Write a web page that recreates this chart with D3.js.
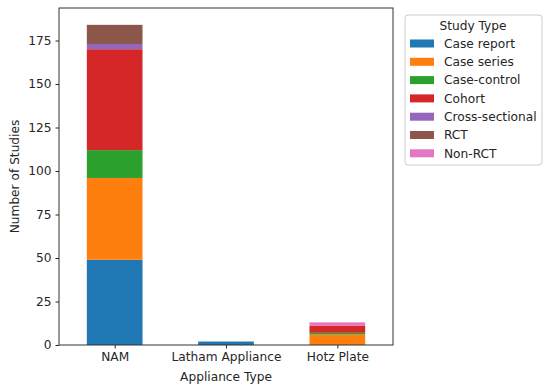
<!DOCTYPE html>
<html><head><meta charset="utf-8">
<script src="https://cdn.jsdelivr.net/npm/d3@7"></script>
<style>body{margin:0;background:#fff}svg{display:block;font-family:"DejaVu Sans",sans-serif}</style>
</head><body><svg id="c" width="550" height="389"></svg>
<script>
const categories = ["NAM", "Latham Appliance", "Hotz Plate"];
const studyTypes = ["Case report","Case series","Case-control","Cohort","Cross-sectional","RCT","Non-RCT"];
const caseReport     = [49, 2, 0];
const caseSeries     = [47, 0, 6];
const caseControl    = [16, 0, 1];
const cohort         = [58, 0, 4];
const crossSectional = [3, 0, 0];
const rct            = [11, 0, 0];
const nonRct         = [0, 0, 2];
const yTicks = [0, 25, 50, 75, 100, 125, 150, 175];
const colors = ["#1f77b4","#ff7f0e","#2ca02c","#d62728","#9467bd","#8c564b","#e377c2"];

const seriesVals = [caseReport, caseSeries, caseControl, cohort, crossSectional, rct, nonRct];
const rows = categories.map((c, i) => {
  const o = {cat: c};
  studyTypes.forEach((s, j) => o[s] = seriesVals[j][i]);
  return o;
});
const stack = d3.stack().keys(studyTypes)(rows);

const svg = d3.select("#c");
const L = 59, R = 393, T = 8, B = 345;
const FS = "12.2px";
const x = d3.scaleLinear().domain([-0.5, 2.5]).range([L, R]);
const y = d3.scaleLinear().domain([0, (B - T) / 1.74]).range([B, T]);
const bw = x(0.5) - x(0);

stack.forEach((layer, j) => {
  svg.append("g").selectAll("rect").data(layer).join("rect")
    .attr("x", (d, i) => x(i - 0.25))
    .attr("width", bw)
    .attr("y", d => y(d[1]))
    .attr("height", d => Math.max(0, y(d[0]) - y(d[1])))
    .attr("fill", colors[j]);
});

const txt = "#262626";
const ax = svg.append("g").attr("transform", `translate(0,${B})`)
  .call(d3.axisBottom(x).tickValues([0,1,2]).tickFormat(i => categories[i]).tickSize(3.5).tickPadding(4));
const ay = svg.append("g").attr("transform", `translate(${L},0)`)
  .call(d3.axisLeft(y).tickValues(yTicks).tickSize(3.5).tickPadding(4));
[ax, ay].forEach(g => {
  g.select(".domain").remove();
  g.selectAll("line").attr("stroke", txt);
  g.selectAll("text").attr("fill", txt).style("font-size", FS).style("font-family", "DejaVu Sans");
});
svg.append("rect").attr("x", L).attr("y", T).attr("width", R - L).attr("height", B - T)
  .attr("fill", "none").attr("stroke", "#333").attr("stroke-width", 1);

svg.append("text").attr("x", (L + R) / 2).attr("y", 381).attr("text-anchor", "middle")
  .attr("fill", txt).style("font-size", FS).text("Appliance Type");
svg.append("text").attr("transform", `translate(19,${(T + B) / 2}) rotate(-90)`)
  .attr("text-anchor", "middle").attr("fill", txt).style("font-size", FS).text("Number of Studies");

// legend
const lg = svg.append("g");
lg.append("rect").attr("x", 405).attr("y", 15).attr("width", 137).attr("height", 150).attr("rx", 3)
  .attr("fill", "#fff").attr("stroke", "#ccc");
lg.append("text").attr("x", 473).attr("y", 29.5).attr("text-anchor", "middle").attr("fill", txt)
  .style("font-size", FS).text("Study Type");
studyTypes.forEach((s, j) => {
  const yy = 43.5 + j * 18.3;
  lg.append("rect").attr("x", 410).attr("y", yy - 4).attr("width", 24).attr("height", 8).attr("fill", colors[j]);
  lg.append("text").attr("x", 444).attr("y", yy + 4.3).attr("fill", txt).style("font-size", FS).text(s);
});
</script></body></html>
